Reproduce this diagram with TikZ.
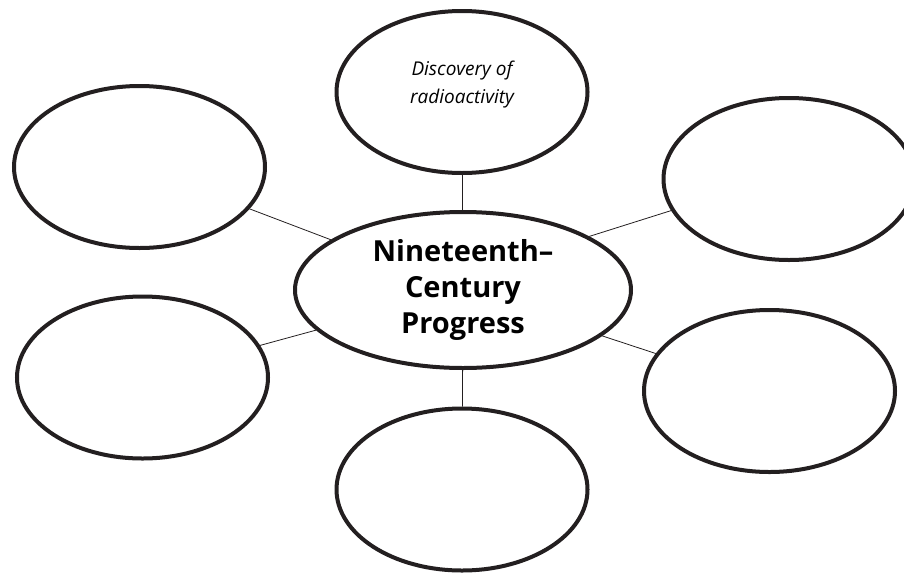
\documentclass[tikz,border=0pt]{standalone}
\usepackage{fontspec}
\setsansfont{Open Sans}
\newfontfamily\handfont{Open Sans}
\usetikzlibrary{shapes.geometric}
\definecolor{ink}{HTML}{231F20}
\tikzset{bubble/.style={ellipse, draw=ink, line width=4pt, minimum width=251pt, minimum height=162pt, inner sep=0pt, align=center},
spoke/.style={draw=ink, line width=0.8pt}}

\begin{document}
\begin{tikzpicture}[x=1pt,y=-1pt]
\useasboundingbox (0,0) rectangle (904,573);

\node[bubble, text depth=19pt, font=\handfont\itshape\fontsize{19}{28}\selectfont] (top) at (462,92) {Discovery of\\radioactivity};
\node[bubble] (lu) at (139.5,167) {};
\node[bubble] (ru) at (789,179) {};
\node[bubble] (ll) at (142.5,377.5) {};
\node[bubble] (rl) at (769.5,391) {};
\node[bubble] (bot) at (462,489.5) {};
\node[bubble, minimum width=336pt, minimum height=156pt, font=\sffamily\bfseries\fontsize{29}{36}\selectfont] (c) at (463,290) {Nineteenth–\\Century\\Progress};

\path[spoke] (c) -- (top)   (c) -- (bot)
(c) -- (lu)   (c.23) -- (ru.195)
(c) -- (ll)   (c) -- (rl);
\end{tikzpicture}
\end{document}
